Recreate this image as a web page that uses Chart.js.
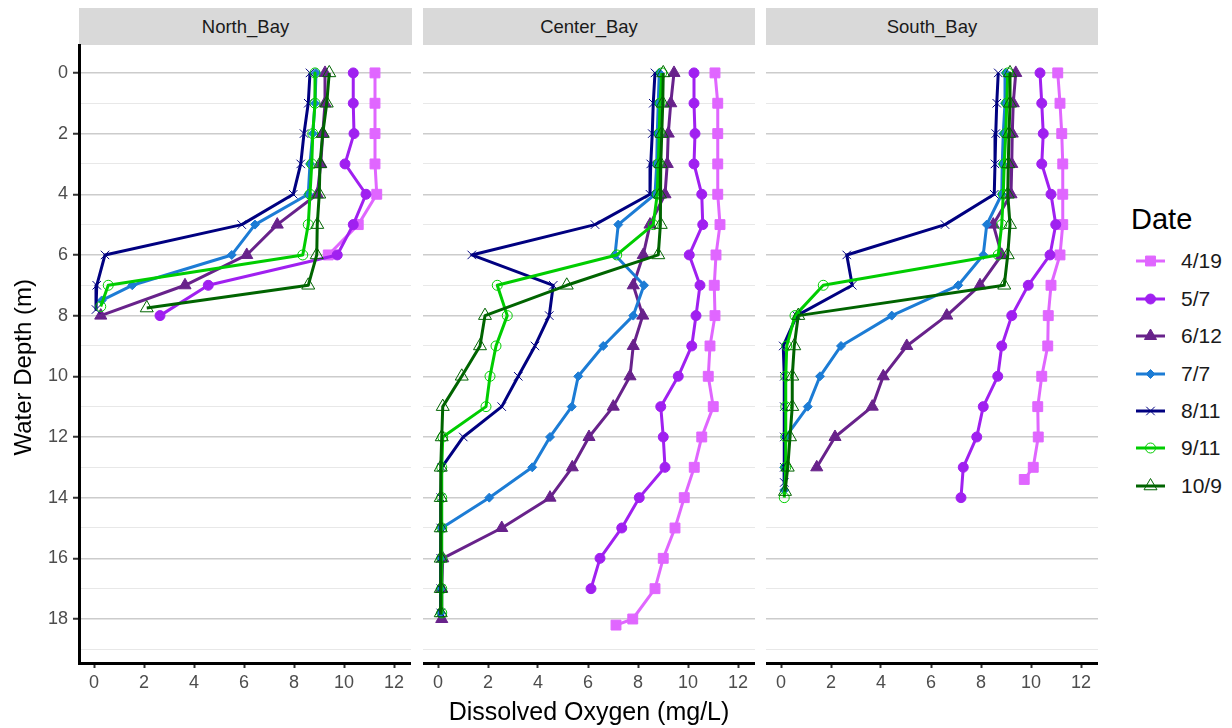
<!DOCTYPE html>
<html>
<head>
<meta charset="utf-8">
<script src="https://cdn.jsdelivr.net/npm/chart.js@4.4.1/dist/chart.umd.min.js"></script>
<style>
html,body{margin:0;padding:0;background:#fff;width:1232px;height:728px;overflow:hidden;font-family:"Liberation Sans",Arial,sans-serif;}
.strip{position:absolute;top:8px;height:37px;background:#D9D9D9;color:#1A1A1A;font-size:18.5px;line-height:37px;text-align:center;}
.cv{position:absolute;top:0;}
#legendTitle{position:absolute;left:1131px;top:202px;font-size:29px;line-height:34px;color:#000;}
.lrow{position:absolute;left:1133px;height:30px;}
.lrow canvas{position:absolute;left:0;top:0;}
.lrow span{position:absolute;left:48px;top:0;font-size:21px;line-height:30px;color:#1A1A1A;white-space:nowrap;}
</style>
</head>
<body>
<div class="strip" style="left:79px;width:333px;">North_Bay</div>
<div class="strip" style="left:423px;width:332px;">Center_Bay</div>
<div class="strip" style="left:766px;width:332px;">South_Bay</div>
<canvas id="c1" class="cv" style="left:0px;" width="411" height="728"></canvas>
<canvas id="c2" class="cv" style="left:423px;" width="332" height="728"></canvas>
<canvas id="c3" class="cv" style="left:766px;" width="332" height="728"></canvas>
<div id="legendTitle">Date</div>
<div id="legend"></div>
<script>
// ---------- data ----------
const dates = ['4/19','5/7','6/12','7/7','8/11','9/11','10/9'];
const bays = ['North_Bay','Center_Bay','South_Bay'];
const doTicks = [0,2,4,6,8,10,12];
const depthTicks = [0,2,4,6,8,10,12,14,16,18];

const northDepth = [
  [0,1,2,3,4,5,6],
  [0,1,2,3,4,5,6,7,8],
  [0,1,2,3,4,5,6,7,8],
  [0,1,2,3,4,5,6,7,7.5],
  [0,1,2,3,4,5,6,7,7.8],
  [0,1,2,3,4,5,6,7,7.7],
  [0,1,2,3,4,5,6,7,7.75]
];
const northDO = [
  [11.24,11.24,11.24,11.24,11.31,10.57,9.37],
  [10.37,10.37,10.4,10.04,10.88,10.37,9.73,4.57,2.64],
  [9.24,9.24,9.15,9.07,8.93,7.33,6.11,3.64,0.27],
  [8.88,8.84,8.75,8.64,8.57,6.44,5.51,1.53,0.31],
  [8.64,8.57,8.4,8.27,7.97,5.91,0.44,0.11,0.08],
  [8.84,8.84,8.75,8.71,8.64,8.57,8.35,0.57,0.27],
  [9.41,9.31,9.15,9.04,9.01,8.93,8.91,8.57,2.11]
];

const centerDepth = [
  [0,1,2,3,4,5,6,7,8,9,10,11,12,13,14,15,16,17,18,18.2],
  [0,1,2,3,4,5,6,7,8,9,10,11,12,13,14,15,16,17],
  [0,1,2,3,4,5,6,7,8,9,10,11,12,13,14,15,16,17,18],
  [0,1,2,3,4,5,6,7,8,9,10,11,12,13,14,15,16,17,17.8],
  [0,1,2,3,4,5,6,7,8,9,10,11,12,13,14,15,16,17,17.8],
  [0,1,2,3,4,5,6,7,8,9,10,11,12,13,14,15,16,17,17.8],
  [0,1,2,3,4,5,6,7,8,9,10,11,12,13,14,15,16,17,17.8]
];
const centerDO = [
  [11.08,11.19,11.19,11.19,11.19,11.28,11.12,11.05,11.08,10.88,10.81,11.01,10.55,10.25,9.85,9.48,9.01,8.68,7.79,7.12],
  [10.24,10.24,10.28,10.24,10.55,10.59,10.05,10.48,10.32,10.15,9.61,8.91,9.01,9.08,8.05,7.35,6.48,6.12],
  [9.44,9.31,9.21,9.17,9.08,8.48,8.21,7.81,8.19,7.81,7.68,7.01,6.04,5.37,4.48,2.55,0.19,0.15,0.15],
  [8.85,8.81,8.77,8.75,8.68,7.21,7.08,8.24,7.81,6.61,5.61,5.35,4.48,3.77,2.05,0.15,0.11,0.11,0.11],
  [8.68,8.61,8.57,8.51,8.48,6.28,1.35,4.61,4.45,3.88,3.21,2.55,1.01,0.15,0.11,0.11,0.11,0.11,0.11],
  [8.95,8.88,8.85,8.81,8.77,8.61,7.15,2.37,2.77,2.32,2.08,1.92,0.19,0.15,0.15,0.15,0.15,0.15,0.15],
  [9.01,8.99,8.95,8.91,8.88,8.91,8.81,5.15,1.88,1.68,0.95,0.19,0.15,0.11,0.11,0.11,0.11,0.11,0.11]
];

const southDepth = [
  [0,1,2,3,4,5,6,7,8,9,10,11,12,13,13.4],
  [0,1,2,3,4,5,6,7,8,9,10,11,12,13,14],
  [0,1,2,3,4,5,6,7,8,9,10,11,12,13],
  [0,1,2,3,4,5,6,7,8,9,10,11,12,13,13.75],
  [0,1,2,3,4,5,6,7,8,9,10,11,12,13,13.5],
  [0,1,2,3,4,5,6,7,8,9,10,11,12,13,14],
  [0,1,2,3,4,5,6,7,8,9,10,11,12,13,13.8]
];
const southDO = [
  [11.07,11.16,11.23,11.27,11.27,11.27,11.16,10.8,10.69,10.67,10.43,10.27,10.29,10.09,9.73],
  [10.36,10.43,10.49,10.43,10.8,10.99,10.76,9.89,9.23,8.83,8.67,8.09,7.83,7.29,7.2],
  [9.39,9.29,9.25,9.23,9.2,8.49,8.83,7.96,6.63,5.03,4.09,3.65,2.16,1.43],
  [8.99,8.96,8.89,8.85,8.83,8.23,8.09,7.09,4.43,2.4,1.56,1.07,0.19,0.13,0.13],
  [8.69,8.63,8.59,8.56,8.53,6.56,2.63,2.85,0.63,0.09,0.13,0.13,0.13,0.13,0.13],
  [9.07,9.03,8.99,8.93,8.89,8.83,8.69,1.69,0.56,0.23,0.19,0.19,0.19,0.19,0.13],
  [9.16,9.16,9.12,9.09,9.07,9.16,9.07,8.93,0.69,0.53,0.45,0.45,0.36,0.27,0.16]
];

// ---------- styles ----------
const colors = ['#E066FF','#A020F0','#68228B','#1C7CD5','#000080','#00CD00','#006400'];
const shapes = ['rect','circle','triangle','rectRot','crossRot','circle','triangle'];
const radii = [7,5,7,4.5,6,5,7.5];
const filled = [true,true,true,true,false,false,false];

Chart.defaults.font.family = '"Liberation Sans", Arial, sans-serif';

function buildDatasets(depths, dos) {
  return dates.map((d, i) => ({
    label: d,
    data: depths[i].map((y, j) => ({x: dos[i][j], y: y})),
    showLine: true,
    borderColor: colors[i],
    backgroundColor: colors[i],
    borderWidth: 3,
    borderJoinStyle: 'round',
    tension: 0,
    pointStyle: shapes[i],
    pointRadius: radii[i],
    pointHoverRadius: radii[i],
    pointBorderColor: colors[i],
    pointBackgroundColor: filled[i] ? colors[i] : 'rgba(0,0,0,0)',
    pointBorderWidth: 1,
    order: dates.length - i
  }));
}

function makeChart(id, depths, dos, panelIndex) {
  const first = panelIndex === 0;
  const middle = panelIndex === 1;
  return new Chart(document.getElementById(id), {
    type: 'scatter',
    data: { datasets: buildDatasets(depths, dos) },
    options: {
      responsive: false,
      animation: false,
      layout: { autoPadding: false, padding: { top: 45, left: 0, right: 0, bottom: 0 } },
      plugins: { legend: { display: false }, tooltip: { enabled: false } },
      scales: {
        x: {
          type: 'linear',
          min: -0.6, max: 12.68,
          afterFit: s => { s.height = 65; s.paddingLeft = 0; s.paddingRight = 0; },
          ticks: {
            stepSize: 2, includeBounds: false, autoSkip: false, maxRotation: 0,
            color: '#4D4D4D', font: { size: 18 }, padding: 4,
            callback: v => doTicks.includes(v) ? String(v) : ''
          },
          grid: { display: true, drawOnChartArea: false, drawTicks: true, tickLength: 5, tickColor: '#333333', tickWidth: 2 },
          border: { display: true, color: '#000000', width: 3 },
          title: { display: middle, text: 'Dissolved Oxygen (mg/L)', color: '#000000',
                   font: { size: 25, lineHeight: 1.2 }, padding: { top: 0, bottom: 0 } }
        },
        y: {
          type: 'linear',
          reverse: true,
          min: -0.92, max: 19.45,
          afterFit: s => { s.width = first ? 79 : 0; s.paddingTop = 0; s.paddingBottom = 0; },
          ticks: {
            display: first, stepSize: 1, includeBounds: false, autoSkip: false,
            color: '#4D4D4D', font: { size: 18 }, padding: 5,
            callback: v => depthTicks.includes(v) ? String(v) : ''
          },
          grid: {
            display: true, drawOnChartArea: true, drawTicks: first, tickLength: 6, tickWidth: 2,
            color: c => (c.tick && Math.round(c.tick.value) % 2 === 0) ? '#CCCCCC' : '#E8E8E8',
            lineWidth: c => (c.tick && Math.round(c.tick.value) % 2 === 0) ? 1.5 : 1,
            tickColor: c => (c.tick && Math.round(c.tick.value) % 2 === 0) ? '#333333' : 'rgba(0,0,0,0)'
          },
          border: { display: first, color: '#000000', width: 3 },
          title: { display: first, text: 'Water Depth (m)    ', color: '#000000',
                   font: { size: 24, lineHeight: 1.2 }, padding: { top: 10, bottom: 0 } }
        }
      }
    }
  });
}

makeChart('c1', northDepth, northDO, 0);
makeChart('c2', centerDepth, centerDO, 1);
makeChart('c3', southDepth, southDO, 2);

// ---------- legend ----------
const rowCenters = [261, 299, 336, 374, 411, 448, 486];
const legend = document.getElementById('legend');
dates.forEach((d, i) => {
  const row = document.createElement('div');
  row.className = 'lrow';
  row.style.top = (rowCenters[i] - 15) + 'px';
  const cv = document.createElement('canvas');
  cv.width = 36; cv.height = 30;
  row.appendChild(cv);
  const sp = document.createElement('span');
  sp.textContent = d;
  row.appendChild(sp);
  legend.appendChild(row);
  const ctx = cv.getContext('2d');
  ctx.strokeStyle = colors[i];
  ctx.lineWidth = 3;
  ctx.beginPath(); ctx.moveTo(3, 15); ctx.lineTo(32, 15); ctx.stroke();
  ctx.fillStyle = filled[i] ? colors[i] : 'rgba(0,0,0,0)';
  ctx.lineWidth = 1;
  if (Chart.helpers && Chart.helpers.drawPoint) {
    Chart.helpers.drawPoint(ctx, { pointStyle: shapes[i], radius: radii[i], rotation: 0, borderWidth: 1 }, 17.5, 15);
  }
});
</script>
</body>
</html>
